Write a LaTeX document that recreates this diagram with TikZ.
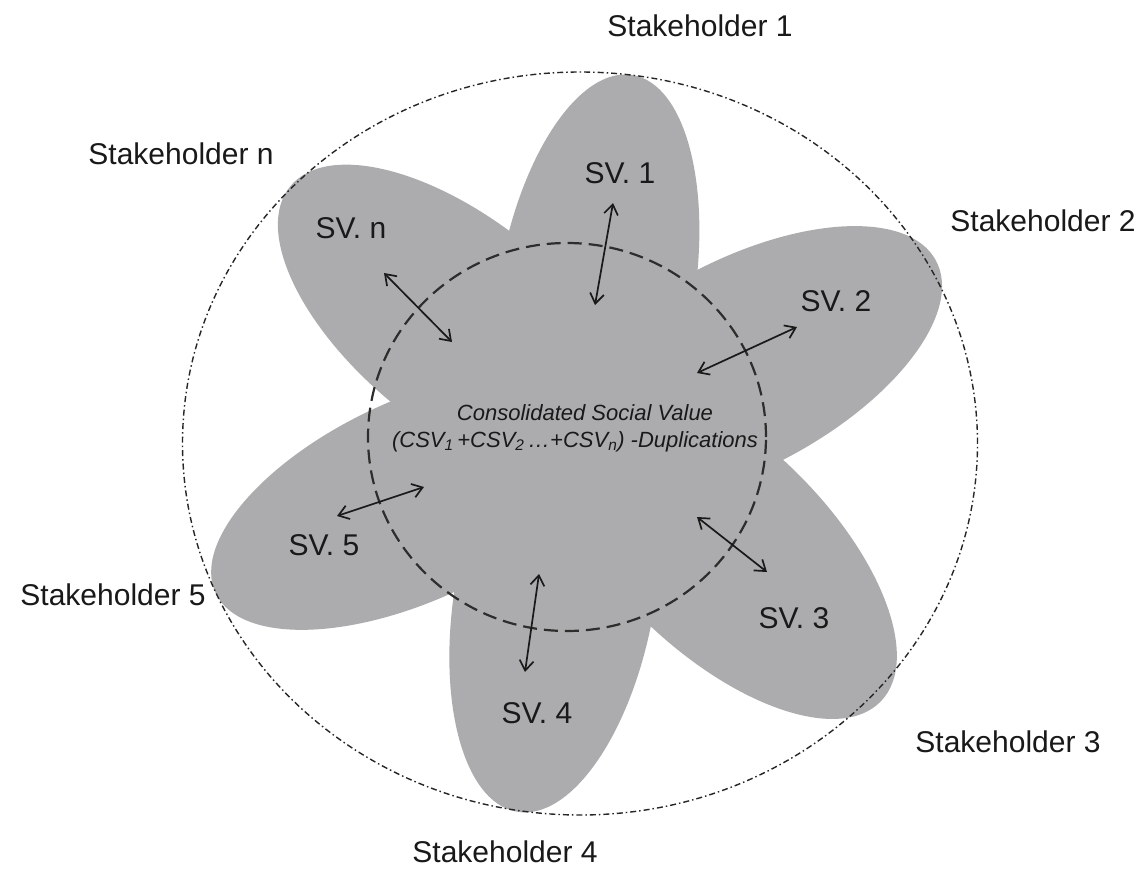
\documentclass[tikz,border=0pt]{standalone}
\usepackage{fontspec}
\setmainfont{Liberation Sans}
\usetikzlibrary{arrows.meta}
\definecolor{petalgray}{RGB}{172,172,174}
\definecolor{dashgray}{RGB}{45,45,45}
\begin{document}
\begin{tikzpicture}[x=1pt,y=-1pt,
  petal/.style={fill=petalgray},
  innerring/.style={draw=dashgray, line width=2.2pt, dash pattern=on 14pt off 7pt},
  outerring/.style={draw=black!85, line width=1.4pt, dash pattern=on 6pt off 3pt on 1.5pt off 3pt},
  lbl/.style={font=\fontsize{30}{36}\selectfont, inner sep=0pt, text=black!90},
  sv/.style={font=\fontsize{30}{36}\selectfont, inner sep=0pt, text=black!90},
  csv/.style={font=\fontsize{22}{26}\selectfont\itshape, inner sep=0pt, text=black!90},
  link/.style={line width=1.7pt, draw=black!90, {Straight Barb[length=10pt,width=14pt]}-{Straight Barb[length=10pt,width=14pt]}},
]
\useasboundingbox (0,0) rectangle (1141,869);
\fill[white] (0,0) rectangle (1141,869);
% petals
\fill[petal, rotate around={80.4:(596,292)}] (596,292) ellipse [x radius=220pt, y radius=98pt];
\fill[petal, rotate around={28:(740,365)}] (740,365) ellipse [x radius=222pt, y radius=104pt];
\fill[petal, rotate around={-44:(719,545)}] (719,545) ellipse [x radius=225pt, y radius=106pt];
\fill[petal, rotate around={-100:(555,595)}] (555,595) ellipse [x radius=220pt, y radius=100pt];
\fill[petal, rotate around={205:(415,500)}] (415,500) ellipse [x radius=220pt, y radius=100pt];
\fill[petal, rotate around={141:(461,325)}] (461,325) ellipse [x radius=220pt, y radius=104pt];
\fill[petal] (570,440) circle [radius=175pt];
% rings
\draw[innerring] (567,437) ellipse [x radius=199pt, y radius=194pt];
\draw[outerring] (580,443.5) ellipse [x radius=397.5pt, y radius=371.5pt];
% stakeholder labels
\node[lbl] (st1) at (700,26) {Stakeholder 1};
\node[lbl] (stn) at (181,154) {Stakeholder n};
\node[lbl] (st2) at (1043,221) {Stakeholder 2};
\node[lbl] (st5) at (113,595) {Stakeholder 5};
\node[lbl] (st3) at (1008,742) {Stakeholder 3};
\node[lbl] (st4) at (505,852) {Stakeholder 4};
% SV labels
\node[sv] (sv1) at (620,173) {SV. 1};
\node[sv] (svn) at (351,228) {SV. n};
\node[sv] (sv2) at (836,301) {SV. 2};
\node[sv] (sv3) at (794,618) {SV. 3};
\node[sv] (sv4) at (537,713) {SV. 4};
\node[sv] (sv5) at (324,545) {SV. 5};
% centre text
\node[csv, anchor=base] (csva) at (585,420) {Consolidated Social Value};
\node[csv, anchor=base] (csvb) at (575,447) {(CSV\textsubscript{1}\,+CSV\textsubscript{2}\,…+CSV\textsubscript{n}) -Duplications};
% arrow end points
\coordinate (a1o) at (613,203); \coordinate (a1i) at (595,305);
\coordinate (ano) at (384,273); \coordinate (ani) at (452,342);
\coordinate (a2o) at (797,327); \coordinate (a2i) at (697,373);
\coordinate (a3o) at (767,572); \coordinate (a3i) at (697,517);
\coordinate (a4o) at (525,672); \coordinate (a4i) at (539,574);
\coordinate (a5o) at (337,516); \coordinate (a5i) at (424,487);
\draw[link] (a1o) -- (a1i);
\draw[link] (ano) -- (ani);
\draw[link] (a2o) -- (a2i);
\draw[link] (a3o) -- (a3i);
\draw[link] (a4o) -- (a4i);
\draw[link] (a5o) -- (a5i);
\end{tikzpicture}
\end{document}
